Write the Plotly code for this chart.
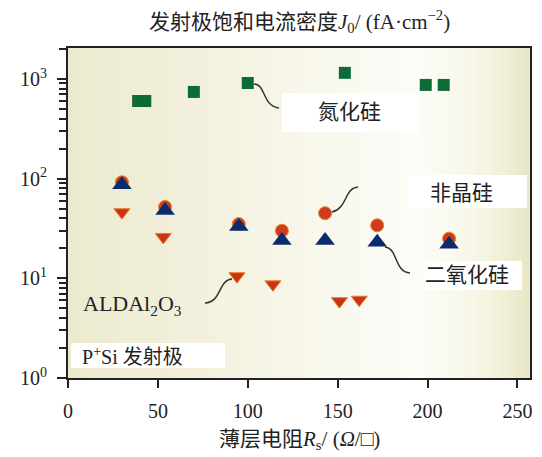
import plotly.graph_objects as go

# ---- data ----
sin_x = [39, 43, 70, 100, 154, 199, 209]
sin_y = [600, 600, 740, 910, 1150, 870, 870]

asi_x = [30, 54, 95, 119, 143, 172, 212]
asi_y = [92, 52, 35, 30, 45, 34, 25]

sio2_x = [30, 54, 95, 119, 143, 172, 212]
sio2_y = [87, 48, 33, 24, 24, 23, 22]

al2o3_x = [30, 53, 94, 114, 151, 162]
al2o3_y = [46, 26, 10.5, 8.7, 5.9, 6.1]

x_ticks = [0, 50, 100, 150, 200, 250]
y_tickvals = [1, 10, 100, 1000]
y_ticktext = ["10<sup>0</sup>", "10<sup>1</sup>", "10<sup>2</sup>", "10<sup>3</sup>"]

# page has an 8px body margin; work in page pixels and offset
OFF = 8
W, H = 542 - OFF, 457 - OFF
L, R, T, B = 68, 530, 48, 378   # plot area in page pixels

serif = "Liberation Serif, DejaVu Serif, Noto Sans CJK SC, serif"

def px(x):
    return (x - L) / (R - L)

def py(y):
    return (B - y) / (B - T)

fig = go.Figure()

fig.add_trace(go.Scatter(x=sin_x, y=sin_y, mode="markers", name="氮化硅",
                         marker=dict(symbol="square", size=12, color="#0d6b36",
                                     line=dict(width=0))))
fig.add_trace(go.Scatter(x=asi_x, y=asi_y, mode="markers", name="非晶硅",
                         marker=dict(symbol="circle", size=13, color="#cf3b1c",
                                     line=dict(width=1, color="#e8862a"))))
fig.add_trace(go.Scatter(x=sio2_x, y=sio2_y, mode="markers", name="二氧化硅",
                         marker=dict(symbol="triangle-up", size=17, color="#0b2c6c",
                                     line=dict(width=0))))
fig.add_trace(go.Scatter(x=al2o3_x, y=al2o3_y, mode="markers", name="ALDAl2O3",
                         marker=dict(symbol="triangle-down", size=14, color="#c93418",
                                     line=dict(width=1, color="#e9802a"))))

shapes = []
# background gradient strips (decorative)
stops = [(0.0, (236, 234, 206)), (0.3, (243, 241, 222)), (0.55, (249, 248, 237)),
         (0.76, (252, 252, 248)), (0.9, (246, 245, 228)), (1.0, (232, 230, 196))]

def col(t):
    for i in range(len(stops) - 1):
        a, ca = stops[i]
        b, cb = stops[i + 1]
        if a <= t <= b:
            f = (t - a) / (b - a) if b > a else 0
            c = [round(ca[k] + (cb[k] - ca[k]) * f) for k in range(3)]
            return "rgb(%d,%d,%d)" % tuple(c)
    return "rgb(%d,%d,%d)" % stops[-1][1]

n = 60
for i in range(n):
    shapes.append(dict(type="rect", xref="paper", yref="paper",
                       x0=i / n, x1=(i + 1) / n + 0.002, y0=0, y1=1,
                       fillcolor=col((i + 0.5) / n), line=dict(width=0), layer="below"))

# white label boxes
boxes = [(282, 93, 418, 132), (407, 175, 527, 208), (423, 261, 522, 290), (71, 343, 225, 368)]
for x0, y0, x1, y1 in boxes:
    shapes.append(dict(type="rect", xref="paper", yref="paper",
                       x0=px(x0), x1=px(x1), y0=py(y1), y1=py(y0),
                       fillcolor="white", line=dict(width=0), layer="below"))

# leader curves (pixel -> paper)
def path(pts):
    (a, b), (c1x, c1y), (c2x, c2y), (ex, ey) = pts
    return "M %f,%f C %f,%f %f,%f %f,%f" % (px(a), py(b), px(c1x), py(c1y),
                                            px(c2x), py(c2y), px(ex), py(ey))

leaders = [
    [(254, 84), (266, 84), (262, 106), (279, 108)],
    [(332, 212), (348, 208), (344, 188), (358, 187)],
    [(385, 247), (398, 248), (394, 272), (410, 273)],
    [(232, 279), (218, 280), (222, 302), (205, 303)],
]
for p in leaders:
    shapes.append(dict(type="path", xref="paper", yref="paper", path=path(p),
                       line=dict(color="#333333", width=1.5)))

annotations = [
    dict(text="发射极饱和电流密度<i>J</i><sub>0</sub>/ (fA·cm<sup>−2</sup>)", xref="paper", yref="paper",
         x=0.5, y=py(21), xanchor="center", yanchor="middle", showarrow=False,
         font=dict(family=serif, size=21, color="#222")),
    dict(text="氮化硅", xref="paper", yref="paper", x=px(349), y=py(112),
         xanchor="center", yanchor="middle", showarrow=False,
         font=dict(family=serif, size=21, color="#222")),
    dict(text="非晶硅", xref="paper", yref="paper", x=px(461), y=py(193),
         xanchor="center", yanchor="middle", showarrow=False,
         font=dict(family=serif, size=21, color="#222")),
    dict(text="二氧化硅", xref="paper", yref="paper", x=px(467), y=py(275),
         xanchor="center", yanchor="middle", showarrow=False,
         font=dict(family=serif, size=21, color="#222")),
    dict(text="ALDAl<sub>2</sub>O<sub>3</sub>", xref="paper", yref="paper", x=px(81), y=py(305),
         xanchor="left", yanchor="middle", showarrow=False,
         font=dict(family=serif, size=22, color="#222")),
    dict(text="P<sup>+</sup>Si 发射极", xref="paper", yref="paper", x=px(80), y=py(356),
         xanchor="left", yanchor="middle", showarrow=False,
         font=dict(family=serif, size=20, color="#222")),
    dict(text="薄层电阻<i>R</i><sub>s</sub>/ (<i>Ω</i>/□)", xref="paper", yref="paper",
         x=0.5, y=py(440), xanchor="center", yanchor="middle", showarrow=False,
         font=dict(family=serif, size=21, color="#222")),
]

minor_vals = [m * 10 ** e for e in range(0, 4) for m in range(2, 10)]

fig.update_layout(
    width=W, height=H,
    margin=dict(l=L - OFF, r=W - (R - OFF), t=T - OFF, b=H - (B - OFF), autoexpand=False),
    paper_bgcolor="white", plot_bgcolor="rgba(0,0,0,0)",
    showlegend=False,
    shapes=shapes, annotations=annotations,
    font=dict(family=serif, size=17, color="#222"),
)
fig.update_xaxes(range=[0, 257], tickvals=x_ticks, showgrid=False, zeroline=False,
                 automargin=False, ticklabelstandoff=6,
                 showline=True, linecolor="#222", linewidth=2, mirror=True,
                 ticks="outside", ticklen=8, tickwidth=1.5, tickcolor="#222",
                 tickfont=dict(family=serif, size=20))
fig.update_yaxes(type="log", range=[0, 3.31], tickmode="array", tickvals=y_tickvals,
                 ticktext=y_ticktext, showgrid=False, zeroline=False,
                 automargin=False, ticklabelstandoff=6,
                 showline=True, linecolor="#222", linewidth=2, mirror=True,
                 ticks="outside", ticklen=9, tickwidth=1.5, tickcolor="#222",
                 tickfont=dict(family=serif, size=20),
                 minor=dict(tickmode="array", tickvals=minor_vals, ticks="outside",
                            ticklen=7, tickwidth=1.5, tickcolor="#222", showgrid=False))

fig.write_html("out.html")
